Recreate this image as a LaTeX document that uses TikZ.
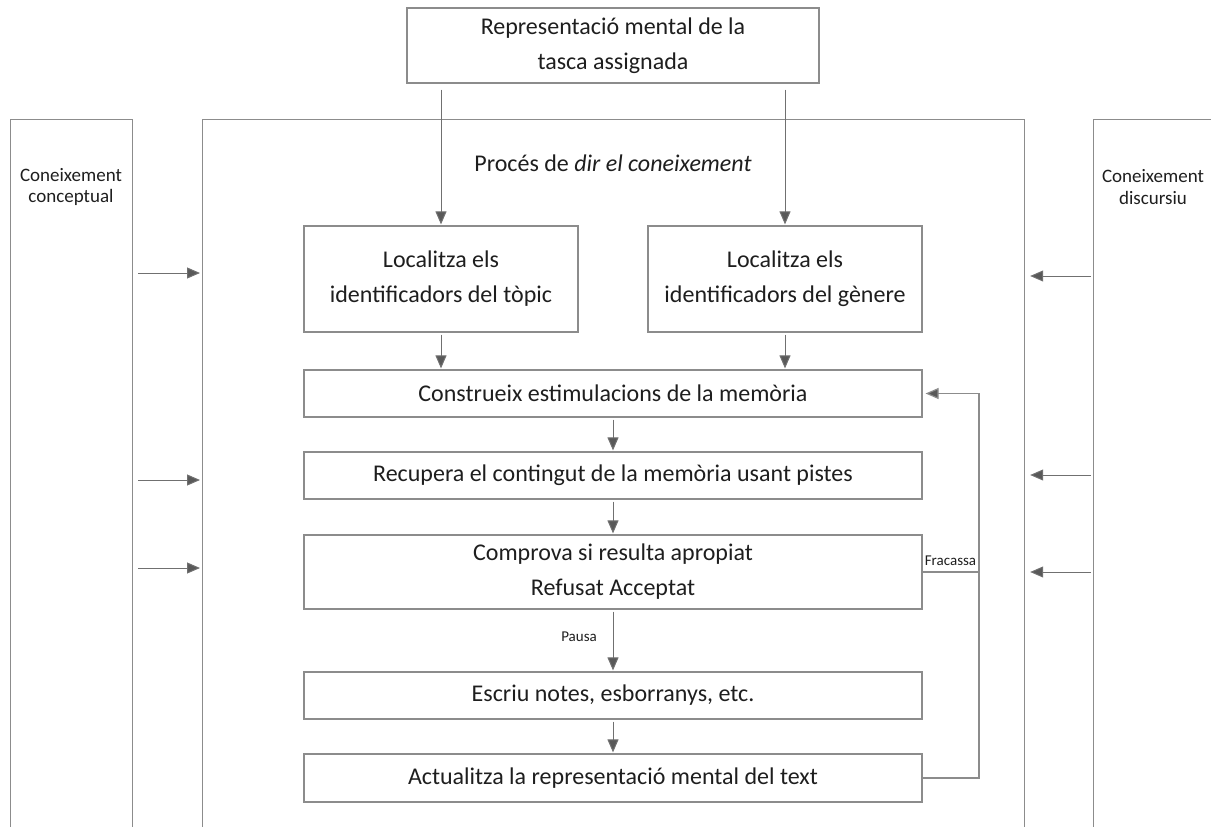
\documentclass[tikz,border=0pt]{standalone}
\usepackage{fontspec}
\setmainfont{Carlito}
\usetikzlibrary{arrows.meta}
\definecolor{boxline}{HTML}{8C8C8C}
\definecolor{arrowline}{HTML}{707070}
\definecolor{tipfill}{HTML}{595959}
\definecolor{ink}{HTML}{1E1E1E}
\begin{document}
\begin{tikzpicture}[x=1pt,y=-1pt,
  box/.style={draw=boxline, line width=1.2pt, text=ink, align=center, inner sep=0pt,
    font=\fontsize{24}{35}\selectfont},
  heading/.style={text=ink, inner sep=0pt, font=\fontsize{24}{35}\selectfont},
  panel/.style={draw=boxline, line width=1.2pt, inner sep=0pt},
  sidetext/.style={text=ink, align=center, inner sep=0pt, font=\fontsize{19}{21.5}\selectfont},
  small/.style={text=ink, inner sep=0pt, font=\fontsize{15}{18}\selectfont},
  flow/.style={draw=arrowline, line width=1pt, -{Triangle[length=13pt,width=11pt,fill=tipfill]}},
  link/.style={draw=boxline, line width=1.2pt}]

\clip (0,0) rectangle (1211,827);

% knowledge panels and the main process frame (open at the bottom)
\node[panel, minimum width=122, minimum height=780, anchor=north west] (concept) at (10,119) {};
\node[panel, minimum width=822, minimum height=780, anchor=north west] (proc) at (202,119) {};
\node[panel, minimum width=122, minimum height=780, anchor=north west] (discourse) at (1093,119) {};

\node[sidetext] (conceptlabel) at (71,187) {Coneixement\\conceptual};
\node[sidetext] (discourselabel) at (1153,187) {Coneixement\\discursiu};
\node[heading] (proclabel) at (613,163) {Procés de \textit{dir el coneixement}};

% task representation
\node[box, minimum width=412, minimum height=75] (task) at (613,45.5) {Representació mental de la\\tasca assignada};

% process steps
\node[box, minimum width=274, minimum height=106] (topic) at (441,279) {Localitza els\\identificadors del tòpic};
\node[box, minimum width=274, minimum height=106] (genre) at (785,279) {Localitza els\\identificadors del gènere};
\node[box, minimum width=618, minimum height=47] (memory) at (613,393.5) {Construeix estimulacions de la memòria};
\node[box, minimum width=618, minimum height=47] (retrieve) at (613,475.5) {Recupera el contingut de la memòria usant pistes};
\node[box, minimum width=618, minimum height=74] (check) at (613,572) {Comprova si resulta apropiat\\Refusat Acceptat};
\node[box, minimum width=618, minimum height=47] (notes) at (613,695.5) {Escriu notes, esborranys, etc.};
\node[box, minimum width=618, minimum height=48] (update) at (613,778) {Actualitza la representació mental del text};

% arrows from the task representation
\draw[flow, shorten <=6pt, shorten >=1pt] (task.south -| topic.north) -- (topic.north);
\draw[flow, shorten <=6pt, shorten >=1pt] (task.south -| genre.north) -- (genre.north);

% main flow
\draw[flow, shorten <=2pt, shorten >=1pt] (topic.south) -- (memory.north -| topic.south);
\draw[flow, shorten <=2pt, shorten >=1pt] (genre.south) -- (memory.north -| genre.south);
\draw[flow, shorten <=2pt, shorten >=1pt] (memory.south) -- (retrieve.north);
\draw[flow, shorten <=2pt, shorten >=1pt] (retrieve.south) -- (check.north);
\draw[flow, shorten <=2pt, shorten >=1pt] (check.south) -- (notes.north);
\draw[flow, shorten <=2pt, shorten >=1pt] (notes.south) -- (update.north);
\node[small, anchor=east] (pause) at (597,637) {Pausa};

% feedback loop
\coordinate (loop) at (979,0);
\draw[link] (check.east) -- (check.east -| loop);
\node[small] (fail) at (950.5,561) {Fracassa};
\draw[flow, draw=boxline, line width=1.2pt, shorten >=3pt] (update.east) -- (update.east -| loop) -- (memory.east -| loop) -- (memory.east);

% knowledge feeding into the process
\coordinate (l1) at (0,273);
\coordinate (l2) at (0,480);
\coordinate (l3) at (0,568);
\coordinate (r1) at (0,276);
\coordinate (r2) at (0,475);
\coordinate (r3) at (0,572);
\foreach \c in {l1,l2,l3}
  \draw[flow, shorten <=5pt, shorten >=2pt] (concept.east |- \c) -- (proc.west |- \c);
\foreach \c in {r1,r2,r3}
  \draw[flow, shorten <=2pt, shorten >=5pt] (discourse.west |- \c) -- (proc.east |- \c);
\end{tikzpicture}
\end{document}
